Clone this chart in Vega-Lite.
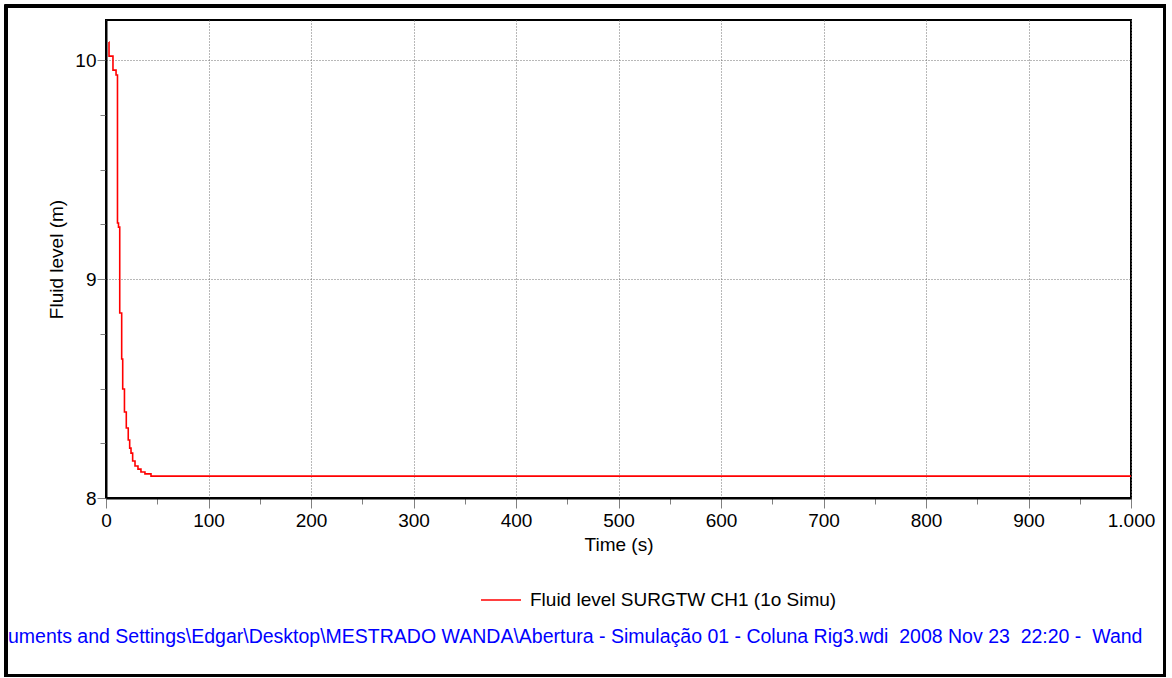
{
  "$schema": "https://vega.github.io/schema/vega-lite/v6.json",
  "autosize": {"type": "none"},
  "width": 1025,
  "height": 478,
  "padding": {"left": 106, "top": 20, "right": 41, "bottom": 180},
  "background": "white",
  "config": {
    "font": "Liberation Sans",
    "view": {"stroke": "black", "strokeWidth": 2},
    "axis": {
      "labelFont": "Liberation Sans",
      "titleFont": "Liberation Sans",
      "labelFontSize": 19,
      "titleFontSize": 19,
      "titleFontWeight": "normal",
      "labelColor": "black",
      "titleColor": "black",
      "domainColor": "black",
      "domainWidth": 2,
      "tickColor": "#808080",
      "tickWidth": 1,
      "gridColor": "#707070",
      "gridDash": [1, 2],
      "gridWidth": 1
    },
    "legend": {
      "labelFont": "Liberation Sans",
      "labelFontSize": 19,
      "labelColor": "black",
      "labelLimit": 0
    }
  },
  "data": {
    "values": [
      {"t": 2.9, "v": 10.082},
      {"t": 2.95, "v": 10.018},
      {"t": 6.8, "v": 9.954},
      {"t": 9.8, "v": 9.932},
      {"t": 11.2, "v": 9.256},
      {"t": 12.2, "v": 9.237},
      {"t": 13.4, "v": 8.845},
      {"t": 15.3, "v": 8.635},
      {"t": 16.3, "v": 8.498},
      {"t": 18.0, "v": 8.393},
      {"t": 19.8, "v": 8.32},
      {"t": 21.7, "v": 8.265},
      {"t": 23.1, "v": 8.228},
      {"t": 24.4, "v": 8.205},
      {"t": 26.0, "v": 8.169},
      {"t": 28.3, "v": 8.146},
      {"t": 31.2, "v": 8.132},
      {"t": 34.1, "v": 8.119},
      {"t": 38.0, "v": 8.11},
      {"t": 43.9, "v": 8.1},
      {"t": 1000, "v": 8.1}
    ]
  },
  "layer": [
    {
      "mark": {"type": "line", "interpolate": "step-after", "strokeWidth": 1.6, "clip": true},
      "encoding": {
        "x": {
          "field": "t",
          "type": "quantitative",
          "title": "Time (s)",
          "scale": {"domain": [0, 1000], "nice": false, "zero": false},
          "axis": {
            "values": [0, 25, 50, 75, 100, 125, 150, 175, 200, 225, 250, 275, 300, 325, 350, 375, 400, 425, 450, 475, 500, 525, 550, 575, 600, 625, 650, 675, 700, 725, 750, 775, 800, 825, 850, 875, 900, 925, 950, 975, 1000],
            "format": "d",
            "labelExpr": "datum.value % 100 !== 0 ? '' : (datum.value === 1000 ? '1.000' : datum.label)",
            "tickSize": {"condition": {"test": "datum.value % 100 === 0", "value": 10}, "value": 6},
            "gridOpacity": {"condition": {"test": "datum.value % 100 === 0", "value": 1}, "value": 0},
            "labelPadding": 3,
            "titlePadding": 5,
            "labelFlush": false,
            "labelOverlap": false
          }
        },
        "y": {
          "field": "v",
          "type": "quantitative",
          "title": "Fluid level (m)",
          "scale": {"domain": [8, 10.183], "nice": false, "zero": false},
          "axis": {
            "values": [8, 8.25, 8.5, 8.75, 9, 9.25, 9.5, 9.75, 10],
            "format": ".0f",
            "labelExpr": "datum.value % 1 !== 0 ? '' : datum.label",
            "tickSize": {"condition": {"test": "datum.value % 1 === 0", "value": 9}, "value": 6},
            "gridOpacity": {"condition": {"test": "datum.value % 1 === 0", "value": 1}, "value": 0},
            "labelPadding": 1,
            "titlePadding": 8,
            "labelFlush": false,
            "labelOverlap": false
          }
        },
        "color": {
          "datum": "Fluid level SURGTW CH1 (1o Simu)",
          "type": "nominal",
          "scale": {"range": ["#ff0000"]},
          "legend": {
            "title": null,
            "orient": "none",
            "legendX": 374,
            "legendY": 559,
            "symbolType": "stroke",
            "symbolSize": 1600,
            "symbolStrokeWidth": 1.6,
            "labelOffset": 8
          }
        }
      }
    },
    {
      "mark": {"type": "rect", "fill": null, "fillOpacity": 0, "stroke": "black", "strokeWidth": 2.5},
      "encoding": {
        "x": {"datum": -97.56, "type": "quantitative"},
        "x2": {"datum": 1032.7},
        "y": {"datum": 10.2466, "type": "quantitative"},
        "y2": {"datum": 7.1895}
      }
    },
    {
      "data": {"values": [{"label": "uments and Settings\\Edgar\\Desktop\\MESTRADO WANDA\\Abertura - Simulação 01 - Coluna Rig3.wdi \u00a02008 Nov 23 \u00a022:20 - \u00a0Wand"}]},
      "mark": {"type": "text", "align": "left", "baseline": "alphabetic", "fontSize": 19.5, "fill": "#0000ff", "strokeWidth": 0, "strokeOpacity": 0, "font": "Liberation Sans", "fontWeight": "normal"},
      "encoding": {
        "x": {"datum": -95.6, "type": "quantitative"},
        "y": {"datum": 7.3379, "type": "quantitative"},
        "text": {"field": "label", "type": "nominal"}
      }
    }
  ]
}
